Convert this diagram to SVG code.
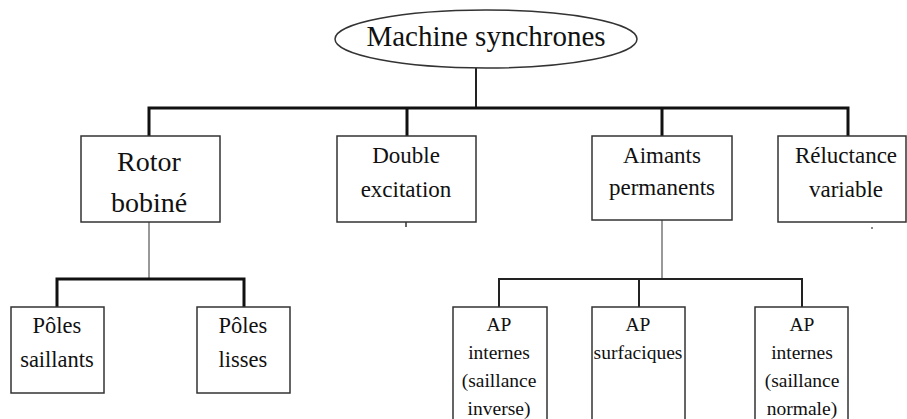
<svg xmlns="http://www.w3.org/2000/svg" width="907" height="419" viewBox="0 0 907 419">
<style>
.box{fill:#fff;stroke:#333;stroke-width:1.5}
.t{font-family:"Liberation Serif","Times New Roman",serif;fill:#111;text-anchor:middle}
.big{font-size:28px}
.mid{font-size:23px}
.sm{font-size:19.5px}
.thick{stroke:#111;stroke-width:3;fill:none}
.med{stroke:#222;stroke-width:2;fill:none}
.thin{stroke:#555;stroke-width:1.2;fill:none}
</style>
<rect width="907" height="419" fill="#fff"/>
<g id="connectors">
<line class="med" x1="476" y1="68" x2="476" y2="108"/>
<polyline class="thick" points="149,136 149,108 848,108 848,136"/>
<line class="thick" x1="407" y1="108" x2="407" y2="136"/>
<line class="thick" x1="662" y1="108" x2="662" y2="136"/>
<line class="thin" x1="149" y1="222" x2="149" y2="279"/>
<polyline class="thick" points="57,307 57,279 244,279 244,307"/>
<line class="thin" x1="662" y1="220" x2="662" y2="279"/>
<polyline class="med" points="499,307 499,279 802,279 802,307"/>
<line class="med" x1="639" y1="279" x2="639" y2="307"/>
<line stroke="#333" stroke-width="1.5" x1="406" y1="222" x2="406" y2="227"/>
<rect x="871" y="227" width="2" height="2" fill="#888"/>
</g>
<g id="root">
<ellipse cx="486" cy="39" rx="151" ry="29" fill="#fff" stroke="#333" stroke-width="1.5"/>
<text class="t" x="486" y="46" font-size="29">Machine synchrones</text>
</g>
<g id="rotor">
<rect class="box" x="81" y="136" width="139" height="86"/>
<text class="t big" x="149" y="171">Rotor</text>
<text class="t big" x="149" y="212">bobiné</text>
</g>
<g id="double">
<rect class="box" x="337" y="136" width="139" height="86"/>
<text class="t mid" x="406" y="163">Double</text>
<text class="t mid" x="406" y="197">excitation</text>
</g>
<g id="aimants">
<rect class="box" x="592" y="136" width="140" height="84"/>
<text class="t mid" x="662" y="163">Aimants</text>
<text class="t mid" x="662" y="195">permanents</text>
</g>
<g id="reluctance">
<rect class="box" x="778" y="136" width="128" height="86"/>
<text class="t mid" x="846" y="163">Réluctance</text>
<text class="t mid" x="846" y="197">variable</text>
</g>
<g id="poles-saillants">
<rect class="box" x="11" y="307" width="93" height="86"/>
<text class="t" font-size="22.5" x="57" y="333">Pôles</text>
<text class="t" font-size="22.5" x="57" y="367">saillants</text>
</g>
<g id="poles-lisses">
<rect class="box" x="197" y="307" width="93" height="86"/>
<text class="t" font-size="22.5" x="243" y="333">Pôles</text>
<text class="t" font-size="22.5" x="243" y="367">lisses</text>
</g>
<g id="ap-inverse">
<rect class="box" x="453" y="307" width="94" height="130"/>
<text class="t sm" x="499" y="331">AP</text>
<text class="t sm" x="499" y="359">internes</text>
<text class="t sm" x="499" y="387">(saillance</text>
<text class="t sm" x="499" y="415">inverse)</text>
</g>
<g id="ap-surfaciques">
<rect class="box" x="592" y="307" width="93" height="130"/>
<text class="t sm" x="638" y="331">AP</text>
<text class="t sm" x="638" y="359">surfaciques</text>
</g>
<g id="ap-normale">
<rect class="box" x="755" y="307" width="93" height="130"/>
<text class="t sm" x="802" y="331">AP</text>
<text class="t sm" x="802" y="359">internes</text>
<text class="t sm" x="802" y="387">(saillance</text>
<text class="t sm" x="802" y="415">normale)</text>
</g>
</svg>
